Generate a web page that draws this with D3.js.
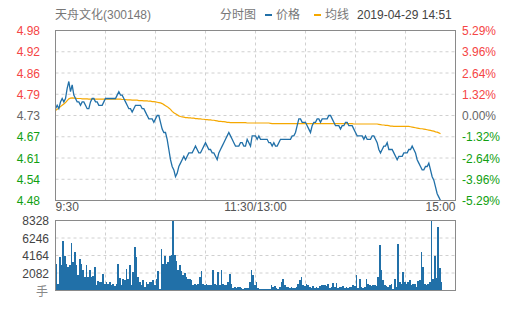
<!DOCTYPE html>
<head>
<meta charset="utf-8">
<title>天舟文化 分时图</title>
<script src="https://cdn.jsdelivr.net/npm/d3@7"></script>
<style>
  body { margin: 0; background: #fff; }
  svg text { font-family: "Liberation Sans", Arial, "Noto Sans CJK SC", sans-serif; font-size: 12px; }
</style>
</head>
<body>
<div id="chart"></div>
<script>
// ---- data ----
const title = "天舟文化(300148)";
const stamp = "2019-04-29 14:51";
const basePrice = 4.73;
const priceLabels = ["4.98", "4.92", "4.86", "4.79", "4.73", "4.67", "4.61", "4.54", "4.48"];
const pctLabels = ["5.29%", "3.96%", "2.64%", "1.32%", "0.00%", "-1.32%", "-2.64%", "-3.96%", "-5.29%"];
const volLabels = ["8328", "6246", "4164", "2082"];
const timeLabels = ["9:30", "11:30/13:00", "15:00"];

// minute prices 9:30 .. 14:51
const price = [
  4.75, 4.76, 4.75, 4.77, 4.78, 4.77, 4.78, 4.81, 4.83, 4.80,
  4.82, 4.79, 4.78, 4.77, 4.77, 4.76, 4.77, 4.77, 4.76, 4.75,
  4.75, 4.77, 4.78, 4.78, 4.77, 4.77, 4.76, 4.76, 4.76, 4.77,
  4.78, 4.78, 4.78, 4.78, 4.78, 4.78, 4.78, 4.79, 4.80, 4.79,
  4.79, 4.78, 4.77, 4.76, 4.75, 4.75, 4.74, 4.75, 4.76, 4.76,
  4.76, 4.76, 4.75, 4.75, 4.74, 4.73, 4.72, 4.72, 4.72, 4.71,
  4.72, 4.73, 4.73, 4.71, 4.69, 4.68, 4.68, 4.66, 4.63, 4.60,
  4.58, 4.57, 4.55, 4.56, 4.58, 4.59, 4.60, 4.61, 4.60, 4.61,
  4.62, 4.62, 4.62, 4.63, 4.64, 4.63, 4.62, 4.62, 4.63, 4.64,
  4.65, 4.64, 4.63, 4.63, 4.62, 4.62, 4.61, 4.60, 4.62, 4.63,
  4.64, 4.65, 4.66, 4.67, 4.68, 4.67, 4.66, 4.65, 4.64, 4.64,
  4.64, 4.65, 4.65, 4.64, 4.64, 4.66, 4.65, 4.64, 4.67, 4.67,
  4.67, 4.66, 4.67, 4.66, 4.66, 4.66, 4.66, 4.66, 4.65, 4.65,
  4.64, 4.65, 4.64, 4.64, 4.65, 4.66, 4.66, 4.66, 4.66, 4.66,
  4.66, 4.66, 4.67, 4.67, 4.68, 4.70, 4.72, 4.72, 4.71, 4.71,
  4.71, 4.70, 4.69, 4.68, 4.70, 4.71, 4.71, 4.72, 4.72, 4.71,
  4.72, 4.72, 4.72, 4.72, 4.73, 4.73, 4.72, 4.71, 4.70, 4.70,
  4.70, 4.69, 4.70, 4.70, 4.71, 4.71, 4.70, 4.70, 4.70, 4.69,
  4.68, 4.67, 4.67, 4.67, 4.67, 4.66, 4.67, 4.66, 4.66, 4.66,
  4.67, 4.67, 4.66, 4.65, 4.63, 4.62, 4.63, 4.64, 4.64, 4.65,
  4.63, 4.63, 4.63, 4.62, 4.61, 4.60, 4.61, 4.61, 4.61, 4.62,
  4.62, 4.62, 4.63, 4.63, 4.64, 4.63, 4.62, 4.60, 4.59, 4.58,
  4.57, 4.57, 4.58, 4.58, 4.59, 4.57, 4.55, 4.54, 4.52, 4.50,
  4.49, 4.48
];

// average price line
const avgPrice = [
  4.745, 4.748, 4.752, 4.756, 4.760, 4.764, 4.768, 4.774, 4.779, 4.781,
  4.782, 4.781, 4.781, 4.780, 4.780, 4.780, 4.779, 4.779, 4.779, 4.779,
  4.778, 4.778, 4.778, 4.778, 4.778, 4.778, 4.778, 4.778, 4.778, 4.778,
  4.778, 4.778, 4.778, 4.778, 4.778, 4.778, 4.778, 4.778, 4.778, 4.778,
  4.777, 4.777, 4.777, 4.776, 4.776, 4.776, 4.775, 4.775, 4.775, 4.775,
  4.774, 4.774, 4.774, 4.773, 4.773, 4.773, 4.772, 4.772, 4.771, 4.771,
  4.770, 4.769, 4.768, 4.767, 4.765, 4.762, 4.759, 4.756, 4.752, 4.748,
  4.742, 4.738, 4.735, 4.732, 4.729, 4.727, 4.726, 4.725, 4.724, 4.724,
  4.723, 4.723, 4.722, 4.722, 4.721, 4.721, 4.720, 4.720, 4.719, 4.719,
  4.718, 4.718, 4.717, 4.717, 4.716, 4.716, 4.715, 4.714, 4.713, 4.713,
  4.712, 4.712, 4.711, 4.710, 4.710, 4.709, 4.709, 4.709, 4.709, 4.709,
  4.709, 4.709, 4.709, 4.709, 4.709, 4.708, 4.708, 4.708, 4.708, 4.708,
  4.708, 4.708, 4.708, 4.708, 4.708, 4.708, 4.708, 4.708, 4.708, 4.707,
  4.706, 4.706, 4.706, 4.706, 4.706, 4.706, 4.706, 4.706, 4.706, 4.706,
  4.706, 4.706, 4.706, 4.706, 4.706, 4.706, 4.706, 4.706, 4.706, 4.706,
  4.706, 4.706, 4.706, 4.706, 4.706, 4.706, 4.706, 4.706, 4.706, 4.706,
  4.706, 4.706, 4.706, 4.706, 4.706, 4.706, 4.706, 4.706, 4.706, 4.706,
  4.706, 4.706, 4.706, 4.706, 4.706, 4.706, 4.706, 4.706, 4.706, 4.705,
  4.705, 4.705, 4.705, 4.705, 4.705, 4.705, 4.705, 4.705, 4.705, 4.705,
  4.705, 4.705, 4.705, 4.705, 4.704, 4.703, 4.702, 4.702, 4.701, 4.701,
  4.700, 4.699, 4.699, 4.698, 4.698, 4.698, 4.698, 4.698, 4.698, 4.698,
  4.698, 4.698, 4.698, 4.697, 4.696, 4.695, 4.694, 4.693, 4.692, 4.691,
  4.691, 4.690, 4.689, 4.688, 4.687, 4.686, 4.685, 4.684, 4.682, 4.681,
  4.679, 4.676
];

// volume per minute (手)
const volume = [
  3173, 800, 3966, 2975, 5830, 4164, 3173, 2776, 2975, 5671,
  3371, 4561, 2975, 1864, 3768, 3173, 2380, 1586, 2975, 1586,
  2380, 1586, 1705, 2776, 595, 1071, 992, 992, 1983, 793,
  992, 714, 992, 595, 793, 516, 793, 3173, 1467, 595,
  1309, 1190, 2578, 1388, 2975, 595, 2181, 5156, 3966, 1586,
  992, 595, 1190, 397, 992, 793, 992, 992, 1190, 595,
  1388, 2261, 119, 4958, 3173, 4164, 3173, 3371, 4164, 4244,
  8328, 4244, 3569, 2380, 2975, 2261, 1785, 2102, 1586, 1388,
  1309, 1190, 595, 793, 674, 793, 1586, 2261, 793, 674,
  793, 595, 674, 595, 2380, 793, 674, 2181, 595, 2380,
  793, 674, 595, 992, 1983, 793, 278, 397, 278, 397,
  397, 278, 198, 278, 278, 278, 992, 2380, 1785, 595,
  992, 278, 198, 198, 119, 119, 119, 198, 119, 595,
  397, 516, 278, 198, 397, 992, 1309, 595, 397, 397,
  278, 397, 278, 278, 397, 793, 1190, 1586, 595, 516,
  793, 595, 397, 278, 516, 278, 397, 278, 516, 595,
  595, 674, 516, 793, 278, 397, 912, 397, 912, 278,
  397, 397, 516, 278, 397, 278, 397, 397, 595, 516,
  1864, 278, 1309, 397, 278, 397, 1309, 793, 595, 516,
  595, 674, 516, 1586, 5354, 2380, 1190, 595, 516, 397,
  674, 793, 198, 1388, 397, 5552, 992, 793, 2181, 992,
  793, 992, 1190, 595, 793, 793, 397, 1071, 1190, 4561,
  2776, 793, 674, 793, 992, 8328, 1388, 4164, 1467, 7535,
  2657, 992
];

// ---- layout ----
const W = 505, H = 310;
const L = 55.5, R = 455.5;
const pTop = 30.5, pBot = 200.5;
const vTop = 220.5, vBot = 290.5;

const red = "#f54545", green = "#11a011", grey = "#666";
const blue = "#2170a8", orange = "#f5a800";

const svg = d3.select("#chart").append("svg")
  .attr("width", W).attr("height", H);

const x = d3.scaleLinear().domain([0, 240]).range([L, R]);
const yP = d3.scaleLinear().domain([4.48, 4.98]).range([pBot, pTop]);
const yV = d3.scaleLinear().domain([0, 8328]).range([vBot, vTop]);
const gridP = d3.scaleLinear().domain([0, 8]).range([pTop, pBot]);
const gridV = d3.scaleLinear().domain([0, 4]).range([vTop, vBot]);

function labelColor(i) {
  if (i < 4) return red;
  if (i === 4) return grey;
  return green;
}

// dashed grids
const gP = svg.append("g").attr("stroke", "#d0d0d0").attr("stroke-dasharray", "3,3");
d3.range(1, 8).forEach(i => {
  gP.append("line").attr("x1", L).attr("x2", R).attr("y1", gridP(i)).attr("y2", gridP(i));
  gP.append("line").attr("x1", x(i * 30)).attr("x2", x(i * 30)).attr("y1", pTop).attr("y2", pBot);
  gP.append("line").attr("x1", x(i * 30)).attr("x2", x(i * 30)).attr("y1", vTop).attr("y2", vBot);
});
d3.range(1, 4).forEach(i => {
  gP.append("line").attr("x1", L).attr("x2", R).attr("y1", gridV(i)).attr("y2", gridV(i));
});

// volume bars
const bw = x(1) - x(0);
svg.append("g").attr("fill", blue).attr("shape-rendering", "crispEdges")
  .selectAll("rect").data(volume).join("rect")
  .attr("x", (d, i) => x(i))
  .attr("width", bw)
  .attr("y", d => yV(d))
  .attr("height", d => yV(0) - yV(d));

// avg + price lines
const line = d3.line().x((d, i) => x(i)).y(d => yP(d));
svg.append("path").datum(avgPrice)
  .attr("fill", "none").attr("stroke", orange).attr("stroke-width", 1.2)
  .attr("d", line);
svg.append("path").datum(price)
  .attr("fill", "none").attr("stroke", blue).attr("stroke-width", 1.3)
  .attr("d", line);

// frames
svg.append("rect").attr("x", L).attr("y", pTop).attr("width", R - L).attr("height", pBot - pTop)
  .attr("fill", "none").attr("stroke", "#8a8a8a");
svg.append("rect").attr("x", L).attr("y", vTop).attr("width", R - L).attr("height", vBot - vTop)
  .attr("fill", "none").attr("stroke", "#8a8a8a");

// price labels
svg.append("g").selectAll("text").data(priceLabels).join("text")
  .attr("x", 40).attr("y", (d, i) => gridP(i) + 4.5)
  .attr("text-anchor", "end")
  .attr("fill", (d, i) => labelColor(i))
  .text(d => d);

svg.append("g").selectAll("text").data(pctLabels).join("text")
  .attr("x", 462).attr("y", (d, i) => gridP(i) + 4.5)
  .attr("fill", (d, i) => labelColor(i))
  .text(d => d);

// volume labels
svg.append("g").selectAll("text").data(volLabels).join("text")
  .attr("x", 49).attr("y", (d, i) => gridV(i) + 4.5)
  .attr("text-anchor", "end").attr("fill", "#444")
  .text(d => d);
svg.append("text").attr("x", 48).attr("y", 296).attr("text-anchor", "end")
  .attr("fill", "#888").text("手");

// time labels
const anchors = ["start", "middle", "end"];
const tx = [x(0), x(120), x(240)];
svg.append("g").selectAll("text").data(timeLabels).join("text")
  .attr("x", (d, i) => tx[i]).attr("y", 211)
  .attr("text-anchor", (d, i) => anchors[i])
  .attr("fill", "#555")
  .text(d => d);

// header
svg.append("text").attr("x", 55).attr("y", 19).attr("fill", "#777").text(title);
svg.append("text").attr("x", 220).attr("y", 19).attr("fill", "#777").text("分时图");
svg.append("rect").attr("x", 265).attr("y", 14).attr("width", 7).attr("height", 2).attr("fill", blue);
svg.append("text").attr("x", 276).attr("y", 19).attr("fill", "#777").text("价格");
svg.append("rect").attr("x", 314).attr("y", 14).attr("width", 7).attr("height", 2).attr("fill", orange);
svg.append("text").attr("x", 325).attr("y", 19).attr("fill", "#777").text("均线");
svg.append("text").attr("x", 357).attr("y", 19).attr("fill", "#444").text(stamp);
</script>
</body>
</html>
